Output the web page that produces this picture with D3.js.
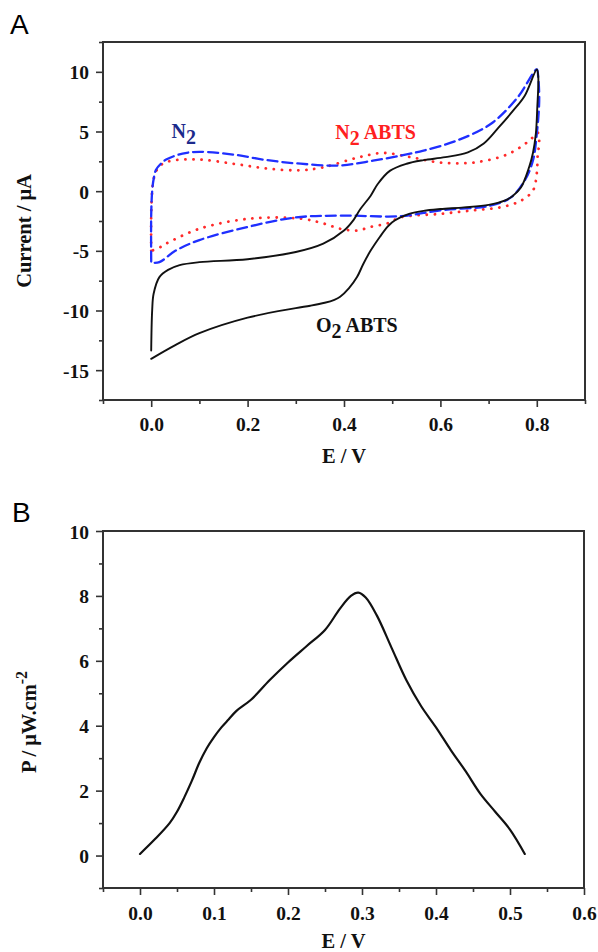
<!DOCTYPE html>
<html>
<head>
<meta charset="utf-8">
<script src="https://d3js.org/d3.v7.min.js"></script>
<style>
  body { margin: 0; background: #fff; }
  svg { display: block; }
  .tick text { font-family: "Liberation Serif", "Times New Roman", serif; font-weight: bold; font-size: 19.5px; fill: #111; }
  .tick line { stroke: #333; stroke-width: 1.6; }
  .axis-title { font-family: "Liberation Serif", "Times New Roman", serif; font-weight: bold; font-size: 20.5px; fill: #111; }
  .panel-label { font-family: "Liberation Sans", Arial, sans-serif; font-size: 28px; fill: #000; }
  .note { font-family: "Liberation Serif", "Times New Roman", serif; font-weight: bold; font-size: 20px; }
</style>
</head>
<body>
<svg id="chart" width="598" height="952"></svg>
<script>
// ---- panel A: cyclic voltammograms (E / V, current / uA) ----
const o2AbtsE = [0, 0.002, 0.005, 0.017, 0.035, 0.059, 0.1, 0.2, 0.3, 0.357, 0.4, 0.42, 0.434, 0.455, 0.47, 0.495, 0.53, 0.565, 0.61, 0.657, 0.69, 0.72, 0.75, 0.775, 0.8,
                 0.803, 0.801, 0.798, 0.792, 0.784, 0.767, 0.75, 0.733, 0.7, 0.649, 0.6, 0.565, 0.535, 0.517, 0.5, 0.49, 0.475, 0.455, 0.44, 0.427, 0.41, 0.392, 0.38, 0.36, 0.33, 0.3, 0.2, 0.1, 0.05, 0];
const o2AbtsI = [-13.35, -10, -8.6, -7.2, -6.6, -6.2, -5.95, -5.7, -5.1, -4.4, -3.3, -2.4, -1.5, -0.4, 0.6, 1.7, 2.3, 2.6, 2.85, 3.25, 4.0, 5.3, 6.7, 8.0, 10.2,
                 9.6, 7, 4.8, 3.2, 2.0, 0.3, -0.4, -0.8, -1.15, -1.36, -1.5, -1.65, -1.9, -2.2, -2.6, -3.0, -3.8, -5.0, -6.1, -7.2, -8.15, -8.85, -9.1, -9.35, -9.6, -9.8, -10.6, -11.9, -12.9, -14.05];

const n2E = [0, 0, 0.002, 0.005, 0.01, 0.02, 0.031, 0.065, 0.1, 0.17, 0.24, 0.31, 0.39, 0.46, 0.52, 0.565, 0.635, 0.705, 0.76, 0.8,
             0.803, 0.805, 0.8, 0.792, 0.775, 0.747, 0.705, 0.6, 0.517, 0.4, 0.3, 0.2, 0.1, 0.05, 0.017, 0.002];
const n2I = [-5.9, -2, 0, 1.0, 1.8, 2.3, 2.65, 3.15, 3.3, 3.07, 2.6, 2.3, 2.15, 2.55, 3.0, 3.4, 4.25, 5.65, 7.85, 10.2,
             9.5, 7.6, 4.8, 2.57, 0.9, -0.5, -1.2, -1.6, -2.1, -2.05, -2.2, -3.0, -4.1, -5.0, -5.95, -6.0];

const n2AbtsE = [0, 0, 0.002, 0.005, 0.012, 0.024, 0.045, 0.1, 0.17, 0.24, 0.31, 0.357, 0.427, 0.482, 0.538, 0.6, 0.669, 0.74, 0.785, 0.802,
                 0.805, 0.802, 0.8, 0.792, 0.767, 0.725, 0.669, 0.6, 0.517, 0.49, 0.455, 0.427, 0.392, 0.357, 0.309, 0.205, 0.1, 0.031, 0.014, 0];
const n2AbtsI = [-5.0, -2, 0, 1.0, 1.8, 2.3, 2.57, 2.65, 2.3, 1.9, 1.75, 2.0, 2.8, 3.2, 2.85, 2.4, 2.4, 3.1, 4.25, 4.9,
                 4.0, 3.1, 1.5, 0.05, -0.8, -1.35, -1.6, -1.9, -2.2, -2.7, -3.0, -3.3, -3.15, -2.7, -2.3, -2.3, -3.15, -4.4, -4.8, -5.0];

const aXTicks = [0, 0.2, 0.4, 0.6, 0.8];
const aYTicks = [-15, -10, -5, 0, 5, 10];

// ---- panel B: power density ----
const powerE = [0, 0.02, 0.04, 0.05, 0.06, 0.07, 0.08, 0.09, 0.1, 0.11, 0.12, 0.13, 0.15, 0.175, 0.2, 0.225, 0.25, 0.27, 0.285, 0.295, 0.305, 0.32, 0.34, 0.36, 0.38, 0.4, 0.42, 0.44, 0.46, 0.48, 0.5, 0.52];
const powerP = [0.05, 0.5, 1.0, 1.35, 1.8, 2.3, 2.85, 3.3, 3.65, 3.95, 4.2, 4.45, 4.8, 5.4, 5.95, 6.45, 6.95, 7.6, 8.0, 8.1, 7.95, 7.4, 6.4, 5.4, 4.6, 3.95, 3.25, 2.6, 1.9, 1.35, 0.8, 0.05];

const bXTicks = [0, 0.1, 0.2, 0.3, 0.4, 0.5, 0.6];
const bYTicks = [0, 2, 4, 6, 8, 10];

const svg = d3.select('#chart');

function panel(opt) {
  const x = d3.scaleLinear().domain(opt.xDomain).range([opt.left, opt.right]);
  const y = d3.scaleLinear().domain(opt.yDomain).range([opt.bottom, opt.top]);
  const g = svg.append('g');

  // minor ticks
  g.append('g').attr('transform', `translate(0,${opt.bottom})`)
    .call(d3.axisBottom(x).tickValues(opt.xMinor).tickSize(4).tickFormat(''))
    .call(a => a.select('.domain').remove());
  g.append('g').attr('transform', `translate(${opt.left},0)`)
    .call(d3.axisLeft(y).tickValues(opt.yMinor).tickSize(4).tickFormat(''))
    .call(a => a.select('.domain').remove());

  // major ticks
  g.append('g').attr('transform', `translate(0,${opt.bottom})`)
    .call(d3.axisBottom(x).tickValues(opt.xTicks).tickSize(7).tickPadding(opt.xPad).tickFormat(d => d.toFixed(1)))
    .call(a => a.select('.domain').remove());
  g.append('g').attr('transform', `translate(${opt.left},0)`)
    .call(d3.axisLeft(y).tickValues(opt.yTicks).tickSize(7).tickPadding(7).tickFormat(d => String(d)))
    .call(a => a.select('.domain').remove())
    .selectAll('text').attr('dy', '0.36em');

  // frame
  g.append('rect')
    .attr('x', opt.left).attr('y', opt.top)
    .attr('width', opt.right - opt.left).attr('height', opt.bottom - opt.top)
    .attr('fill', 'none').attr('stroke', '#333').attr('stroke-width', 2);

  // titles
  g.append('text').attr('class', 'axis-title')
    .attr('x', (opt.left + opt.right) / 2).attr('y', opt.xTitleY)
    .attr('text-anchor', 'middle').text('E / V');

  const yt = g.append('text').attr('class', 'axis-title')
    .attr('transform', `translate(${opt.yTitleX},${opt.yTitleMid}) rotate(-90)`)
    .attr('text-anchor', 'middle');
  opt.yTitle(yt);

  g.append('text').attr('class', 'panel-label')
    .attr('x', opt.labelX).attr('y', opt.labelY).text(opt.label);

  return { g, x, y };
}

const curve = d3.curveCatmullRom.alpha(0.5);

// ---------- Panel A ----------
const A = panel({
  left: 103, right: 585, top: 42, bottom: 400,
  xDomain: [-0.1, 0.9], yDomain: [-17.5, 12.5],
  xTicks: aXTicks, yTicks: aYTicks, xPad: 10,
  xMinor: [-0.1, 0.1, 0.3, 0.5, 0.7, 0.9], yMinor: [-17.5, -12.5, -7.5, -2.5, 2.5, 7.5, 12.5],
  xTitleY: 463, yTitleX: 31, yTitleMid: 231,
  yTitle: t => t.text('Current / μA'),
  label: 'A', labelX: 10, labelY: 34
});

function drawLoop(p, xs, ys, color, width, dash) {
  const pts = xs.map((e, i) => [e, ys[i]]);
  const path = p.g.append('path')
    .datum(pts)
    .attr('fill', 'none')
    .attr('stroke', color)
    .attr('stroke-width', width)
    .attr('stroke-linecap', 'round')
    .attr('stroke-linejoin', 'round')
    .attr('d', d3.line().x(d => p.x(d[0])).y(d => p.y(d[1])).curve(curve));
  if (dash) path.attr('stroke-dasharray', dash);
}

drawLoop(A, n2AbtsE, n2AbtsI, '#ff2a2a', 2.8, '0.1,8');
drawLoop(A, n2E, n2I, '#1f2fff', 2.3, '10,5');
drawLoop(A, o2AbtsE, o2AbtsI, '#111', 1.9, null);

function note(p, e, i, main, sub, rest, color) {
  const t = p.g.append('text').attr('class', 'note')
    .attr('x', p.x(e)).attr('y', p.y(i)).attr('fill', color);
  t.append('tspan').text(main);
  t.append('tspan').attr('dy', 6).text(sub);
  if (rest) t.append('tspan').attr('dy', -6).text(rest);
}
note(A, 0.042, 4.42, 'N', '2', null, '#1c2a8c');
note(A, 0.382, 4.33, 'N', '2', ' ABTS', '#ff2020');
note(A, 0.342, -11.83, 'O', '2', ' ABTS', '#111');

// ---------- Panel B ----------
const B = panel({
  left: 103, right: 584, top: 531, bottom: 888,
  xDomain: [-0.05, 0.6], yDomain: [-1, 10],
  xTicks: bXTicks, yTicks: bYTicks, xPad: 11,
  xMinor: [-0.05, 0.05, 0.15, 0.25, 0.35, 0.45, 0.55], yMinor: [-1, 1, 3, 5, 7, 9],
  xTitleY: 948, yTitleX: 36, yTitleMid: 722,
  yTitle: t => {
    t.append('tspan').text('P / μW.cm');
    t.append('tspan').attr('dy', -9).attr('font-size', '16px').text('-2');
  },
  label: 'B', labelX: 12, labelY: 522
});

B.g.append('path')
  .datum(powerE.map((e, i) => [e, powerP[i]]))
  .attr('fill', 'none')
  .attr('stroke', '#111')
  .attr('stroke-width', 2.2)
  .attr('stroke-linecap', 'round')
  .attr('d', d3.line().x(d => B.x(d[0])).y(d => B.y(d[1])).curve(curve));
</script>
</body>
</html>
